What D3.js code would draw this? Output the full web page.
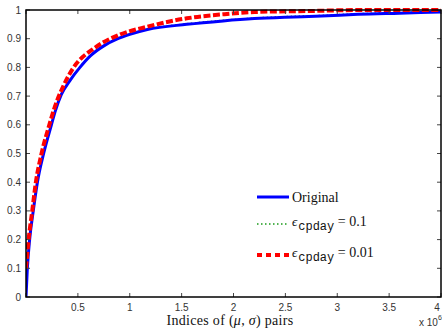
<!DOCTYPE html>
<html>
<head>
<meta charset="utf-8">
<script src="https://cdn.jsdelivr.net/npm/d3@7"></script>
<style>
  body { margin: 0; background: #fff; }
  svg { display: block; }
  .tick-label { font-family: "Liberation Sans", Arial, sans-serif; font-size: 10px; fill: #333; }
  .serif { font-family: "Liberation Serif", "DejaVu Serif", serif; font-size: 14px; fill: #111; }
  .mono { font-family: "Liberation Mono", "DejaVu Sans Mono", monospace; }
</style>
</head>
<body>
<svg id="chart" width="442" height="331"></svg>
<script>
// x values in units of 1e6 (index of (mu, sigma) pair)
const origX = [0, 0.013, 0.035, 0.07, 0.11, 0.17, 0.245, 0.28, 0.34, 0.425, 0.52, 0.62, 0.75, 0.88, 1.0, 1.17, 1.55, 1.9, 2.2, 2.5, 2.85, 3.2, 3.6, 4.0];
const origY = [0, 0.1, 0.2, 0.3, 0.4, 0.5, 0.6, 0.645, 0.705, 0.755, 0.8, 0.84, 0.875, 0.899, 0.915, 0.932, 0.95, 0.962, 0.97, 0.975, 0.979, 0.985, 0.989, 0.993];

const eps01X = [0, 0.012, 0.035, 0.07, 0.11, 0.17, 0.245, 0.28, 0.34, 0.425, 0.52, 0.62, 0.75, 0.88, 1.0, 1.17, 1.55, 1.9, 2.2, 2.5, 2.85, 3.2, 3.6, 4.0];
const eps01Y = [0.065, 0.11, 0.2, 0.3, 0.4, 0.5, 0.6, 0.646, 0.706, 0.756, 0.801, 0.841, 0.876, 0.9, 0.916, 0.933, 0.952, 0.964, 0.972, 0.977, 0.981, 0.987, 0.991, 0.995];

const eps001X = [0, 0.005, 0.025, 0.06, 0.095, 0.15, 0.225, 0.28, 0.36, 0.45, 0.67, 0.91, 1.17, 1.55, 1.9, 2.2, 2.8, 3.2, 4.0];
const eps001Y = [0.1, 0.12, 0.2, 0.3, 0.4, 0.5, 0.6, 0.665, 0.735, 0.795, 0.87, 0.915, 0.942, 0.971, 0.985, 0.993, 0.997, 1.0, 1.0];

const xTicks = [0, 0.5, 1, 1.5, 2, 2.5, 3, 3.5, 4];
const xTickLabels = ["", "0.5", "1", "1.5", "2", "2.5", "3", "3.5", "4"];
const yTicks = [0, 0.1, 0.2, 0.3, 0.4, 0.5, 0.6, 0.7, 0.8, 0.9, 1];
const yTickLabels = ["0", "0.1", "0.2", "0.3", "0.4", "0.5", "0.6", "0.7", "0.8", "0.9", "1"];

const svg = d3.select("#chart");
const mLeft = 26, mRight = 441, mTop = 10, mBottom = 297;

const x = d3.scaleLinear().domain([0, 4]).range([mLeft, mRight]);
const y = d3.scaleLinear().domain([0, 1]).range([mBottom, mTop]);

// clip for the curves
svg.append("defs").append("clipPath").attr("id", "plotclip")
  .append("rect").attr("x", mLeft).attr("y", mTop - 2).attr("width", mRight - mLeft).attr("height", mBottom - mTop + 2);

const line = d3.line().x(d => x(d[0])).y(d => y(d[1])).curve(d3.curveMonotoneX);
const zip = (a, b) => a.map((v, i) => [v, b[i]]);

const plot = svg.append("g").attr("clip-path", "url(#plotclip)");

plot.append("path").datum(zip(eps01X, eps01Y))
  .attr("d", line).attr("fill", "none")
  .attr("stroke", "#1a9a1a").attr("stroke-width", 1.5).attr("stroke-dasharray", "1.5,2.5");

plot.append("path").datum(zip(origX, origY))
  .attr("d", line).attr("fill", "none")
  .attr("stroke", "#0000ff").attr("stroke-width", 3);

plot.append("path").datum(zip(eps001X, eps001Y))
  .attr("d", line).attr("fill", "none")
  .attr("stroke", "#ff0000").attr("stroke-width", 4).attr("stroke-dasharray", "7,2.5");

// axes box with inward ticks
const ax = svg.append("g");
ax.selectAll(".xt").data(xTicks).enter().append("g").each(function(d, i) {
  const g = d3.select(this);
  g.append("line").attr("x1", x(d)).attr("x2", x(d)).attr("y1", mBottom).attr("y2", mBottom - 4).attr("stroke", "#444");
  g.append("line").attr("x1", x(d)).attr("x2", x(d)).attr("y1", mTop).attr("y2", mTop + 4).attr("stroke", "#444");
  g.append("text").attr("class", "tick-label").attr("x", i === xTicks.length - 1 ? x(d) - 4 : x(d)).attr("y", mBottom + 14)
    .attr("text-anchor", "middle").text(xTickLabels[i]);
});
ax.selectAll(".yt").data(yTicks).enter().append("g").each(function(d, i) {
  const g = d3.select(this);
  g.append("line").attr("x1", mLeft).attr("x2", mLeft + 4).attr("y1", y(d)).attr("y2", y(d)).attr("stroke", "#444");
  g.append("line").attr("x1", mRight).attr("x2", mRight - 4).attr("y1", y(d)).attr("y2", y(d)).attr("stroke", "#444");
  g.append("text").attr("class", "tick-label").attr("x", mLeft - 5).attr("y", y(d) + 3.5)
    .attr("text-anchor", "end").text(yTickLabels[i]);
});
ax.append("rect").attr("x", mLeft).attr("y", mTop).attr("width", mRight - mLeft).attr("height", mBottom - mTop)
  .attr("fill", "none").attr("stroke", "#000").attr("stroke-width", 1.5);

// x exponent
const ex = svg.append("text").attr("class", "tick-label").attr("font-size", 9).attr("x", 419).attr("y", 326);
ex.append("tspan").text("x 10");
ex.append("tspan").attr("dy", -6).attr("font-size", 7).text("6");

// x label
const xl = svg.append("text").attr("class", "serif").attr("font-size", 14.5).attr("letter-spacing", 0.3)
  .attr("x", 230).attr("y", 325).attr("text-anchor", "middle");
xl.append("tspan").text("Indices of (");
xl.append("tspan").attr("font-style", "italic").text("μ");
xl.append("tspan").text(", ");
xl.append("tspan").attr("font-style", "italic").text("σ");
xl.append("tspan").text(") pairs");

// legend
const legend = [
  { stroke: "#0000ff", width: 3, dash: null, y: 197, label: "Original" },
  { stroke: "#1a9a1a", width: 1.5, dash: "1.5,2.5", y: 224, label: "0.1" },
  { stroke: "#ff0000", width: 4, dash: "5,4", y: 255, label: "0.01" }
];
const lg = svg.append("g");
legend.forEach((e, i) => {
  lg.append("line").attr("x1", 257).attr("x2", 289).attr("y1", e.y).attr("y2", e.y)
    .attr("stroke", e.stroke).attr("stroke-width", e.width).attr("stroke-dasharray", e.dash);
  const t = lg.append("text").attr("class", "serif").attr("x", 292).attr("y", e.y + 5);
  if (i === 0) {
    t.text(e.label);
  } else {
    t.attr("y", e.y + 2);
    t.append("tspan").attr("font-style", "italic").attr("font-size", 13).text("ϵ");
    t.append("tspan").attr("class", "mono").attr("font-size", 12).attr("dx", 1).attr("dy", 4).text("cpday");
    t.append("tspan").attr("dy", -4).text(" = " + e.label);
  }
});
</script>
</body>
</html>
